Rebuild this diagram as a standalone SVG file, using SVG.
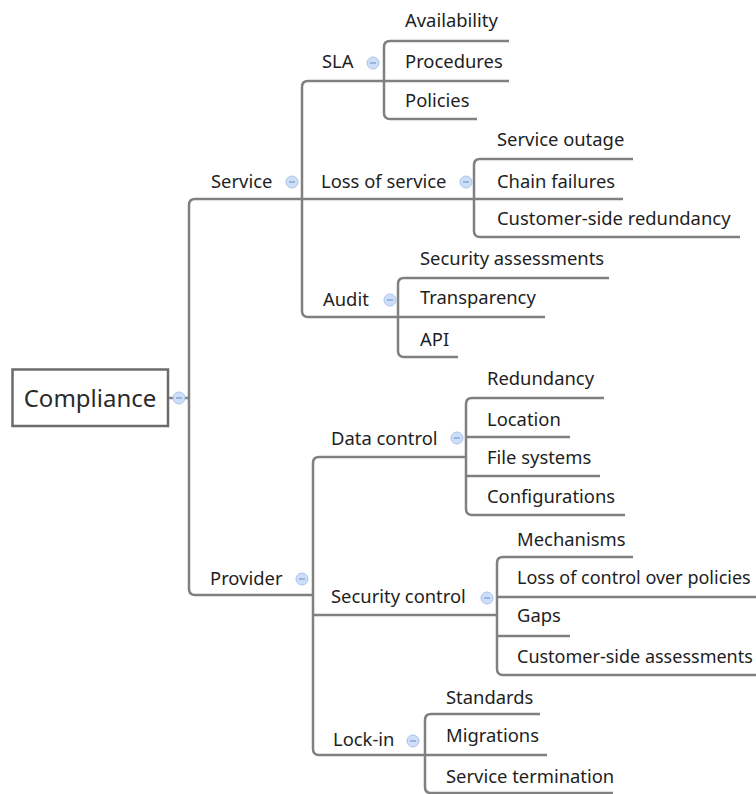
<svg xmlns="http://www.w3.org/2000/svg" width="756" height="794" viewBox="0 0 756 794">
<style>
  .ln { fill: none; stroke: #808080; stroke-width: 2.5; stroke-linecap: butt; }
  .t { font-family: "Noto Sans", "Open Sans", sans-serif; font-size: 18.4px; fill: #1e1e1e; }
  .root { font-family: "Noto Sans", "Open Sans", sans-serif; font-size: 24px; fill: #2a2a2a; }
  .cb circle { fill: #cddff8; stroke: #a9c3ea; stroke-width: 1; }
  .cb line { stroke: #7d9fd3; stroke-width: 1.3; }
</style>
<defs>
  <g id="collapse" class="cb"><circle cx="0" cy="0" r="6"/><line x1="-3" y1="0" x2="3" y2="0"/></g>
</defs>
<rect width="756" height="794" fill="#ffffff"/>

<g id="connectors">
  <path class="ln" d="M168 398 H189"/>
  <path class="ln" d="M302 199 H195 Q189 199 189 205 V589 Q189 595 195 595 H313"/>
  <path class="ln" d="M384 81 H308 Q302 81 302 87 V311 Q302 317 308 317 H398"/>
  <path class="ln" d="M302 199 H474"/>
  <path class="ln" d="M509 41 H390 Q384 41 384 47 V113 Q384 119 390 119 H477"/>
  <path class="ln" d="M384 81 H509"/>
  <path class="ln" d="M633 159 H480 Q474 159 474 165 V231 Q474 237 480 237 H740"/>
  <path class="ln" d="M474 199 H623"/>
  <path class="ln" d="M609 278 H404 Q398 278 398 284 V351 Q398 357 404 357 H458"/>
  <path class="ln" d="M398 317 H545"/>
  <path class="ln" d="M466 457 H319 Q313 457 313 463 V749 Q313 755 319 755 H425"/>
  <path class="ln" d="M313 615 H497"/>
  <path class="ln" d="M604 398 H472 Q466 398 466 404 V509 Q466 515 472 515 H625"/>
  <path class="ln" d="M466 437 H570"/>
  <path class="ln" d="M466 476 H600"/>
  <path class="ln" d="M633 557 H503 Q497 557 497 563 V669 Q497 675 503 675 H756"/>
  <path class="ln" d="M497 597 H756"/>
  <path class="ln" d="M497 636 H570"/>
  <path class="ln" d="M540 714 H431 Q425 714 425 720 V787 Q425 793 431 793 H613"/>
  <path class="ln" d="M425 755 H547"/>
</g>

<g id="node-compliance">
  <rect x="12.5" y="369.5" width="155.5" height="56.5" fill="#ffffff" stroke="#6b6b6b" stroke-width="2.5"/>
  <text class="root" x="90" y="406.5" text-anchor="middle">Compliance</text>
  <use href="#collapse" x="179" y="398"/>
</g>

<g id="node-service"><text class="t" x="211" y="188">Service</text><use href="#collapse" x="292" y="182"/></g>
<g id="node-sla"><text class="t" x="322" y="68">SLA</text><use href="#collapse" x="373" y="63"/></g>
<g id="node-availability"><text class="t" x="405" y="27">Availability</text></g>
<g id="node-procedures"><text class="t" x="405" y="68">Procedures</text></g>
<g id="node-policies"><text class="t" x="405" y="107">Policies</text></g>
<g id="node-loss-of-service"><text class="t" x="321" y="188">Loss of service</text><use href="#collapse" x="466" y="182"/></g>
<g id="node-service-outage"><text class="t" x="497" y="146">Service outage</text></g>
<g id="node-chain-failures"><text class="t" x="497" y="188">Chain failures</text></g>
<g id="node-customer-side-redundancy"><text class="t" x="497" y="225">Customer-side redundancy</text></g>
<g id="node-audit"><text class="t" x="323" y="306">Audit</text><use href="#collapse" x="390" y="300"/></g>
<g id="node-security-assessments"><text class="t" x="420" y="265">Security assessments</text></g>
<g id="node-transparency"><text class="t" x="420" y="304">Transparency</text></g>
<g id="node-api"><text class="t" x="420" y="346">API</text></g>

<g id="node-provider"><text class="t" x="210" y="585">Provider</text><use href="#collapse" x="302" y="579"/></g>
<g id="node-data-control"><text class="t" x="331" y="445">Data control</text><use href="#collapse" x="457" y="438"/></g>
<g id="node-redundancy"><text class="t" x="487" y="385">Redundancy</text></g>
<g id="node-location"><text class="t" x="487" y="426">Location</text></g>
<g id="node-file-systems"><text class="t" x="487" y="464">File systems</text></g>
<g id="node-configurations"><text class="t" x="487" y="503">Configurations</text></g>
<g id="node-security-control"><text class="t" x="331" y="603">Security control</text><use href="#collapse" x="487" y="598"/></g>
<g id="node-mechanisms"><text class="t" x="517" y="546">Mechanisms</text></g>
<g id="node-loss-of-control"><text class="t" x="517" y="584" style="font-size:18px">Loss of control over policies</text></g>
<g id="node-gaps"><text class="t" x="517" y="622">Gaps</text></g>
<g id="node-customer-side-assessments"><text class="t" x="517" y="663" style="font-size:18px">Customer-side assessments</text></g>
<g id="node-lock-in"><text class="t" x="333" y="746">Lock-in</text><use href="#collapse" x="413" y="741"/></g>
<g id="node-standards"><text class="t" x="446" y="704">Standards</text></g>
<g id="node-migrations"><text class="t" x="446" y="742">Migrations</text></g>
<g id="node-service-termination"><text class="t" x="446" y="783">Service termination</text></g>
</svg>
